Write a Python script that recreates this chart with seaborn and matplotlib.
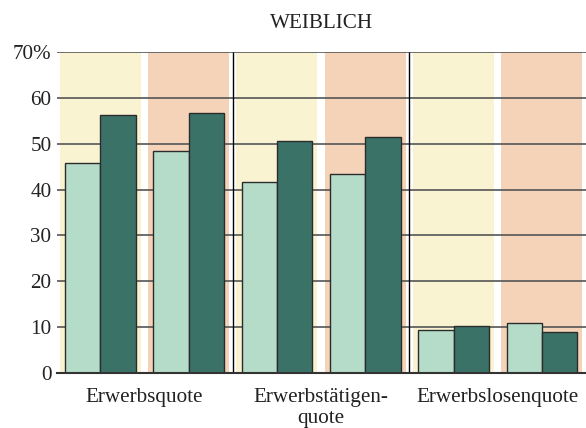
import pandas as pd
import matplotlib.pyplot as plt
import seaborn as sns

# values (percent)
groups = ["Erwerbsquote", "Erwerbstätigen-\nquote", "Erwerbslosenquote"]
slots = ["EQ_a", "EQ_b", "ETQ_a", "ETQ_b", "ELQ_a", "ELQ_b"]
light_vals = [45.9, 48.4, 41.7, 43.4, 9.4, 10.8]
dark_vals = [56.3, 56.6, 50.5, 51.5, 10.3, 9.0]
y_ticks = [0, 10, 20, 30, 40, 50, 60, 70]
y_labels = ["0", "10", "20", "30", "40", "50", "60", "70%"]

df = pd.DataFrame({
    "slot": slots * 2,
    "value": light_vals + dark_vals,
    "series": ["hell"] * len(slots) + ["dunkel"] * len(slots),
})

sns.set_style("white")
plt.rcParams["font.family"] = ["Liberation Serif", "DejaVu Serif"]

fig = plt.figure(figsize=(5.86, 4.28), dpi=100)
ax = fig.add_axes([57 / 586, 55 / 428, 529 / 586, 321 / 428])

band_colors = ["#faf3d2", "#f4d3b9"]
for i in range(len(slots)):
    ax.axvspan(i - 0.458, i + 0.458, color=band_colors[i % 2], lw=0, zorder=0.2)

sns.barplot(data=df, x="slot", y="value", hue="series", order=slots,
            palette=["#b5dcc8", "#3b7268"], saturation=1, width=0.8,
            edgecolor="#2b2b2b", linewidth=1, legend=False, ax=ax)

ax.vlines([1.5, 3.5], 0, 70, color="black", lw=1, zorder=2)

ax.set_xlim(-0.49, 5.5)
ax.set_ylim(0, 70)
ax.set_yticks(y_ticks)
ax.set_yticklabels(y_labels)
ax.set_xticks([0.5, 2.5, 4.5])
ax.set_xticklabels(groups, linespacing=1.15)
ax.tick_params(axis="both", length=0, labelsize=15.2, colors="#222222")
ax.tick_params(axis="y", pad=4)
ax.tick_params(axis="x", pad=11)
ax.set_xlabel("")
ax.set_ylabel("")

ax.set_axisbelow(True)
ax.yaxis.grid(True, color="#555555", lw=1.2)
for side in ["left", "right", "top"]:
    ax.spines[side].set_visible(False)
ax.spines["bottom"].set_color("#333333")
ax.spines["bottom"].set_linewidth(1.5)

ax.set_title("WEIBLICH", fontsize=15.2, pad=17, color="#222222")

fig.savefig("out.png", dpi=100)
